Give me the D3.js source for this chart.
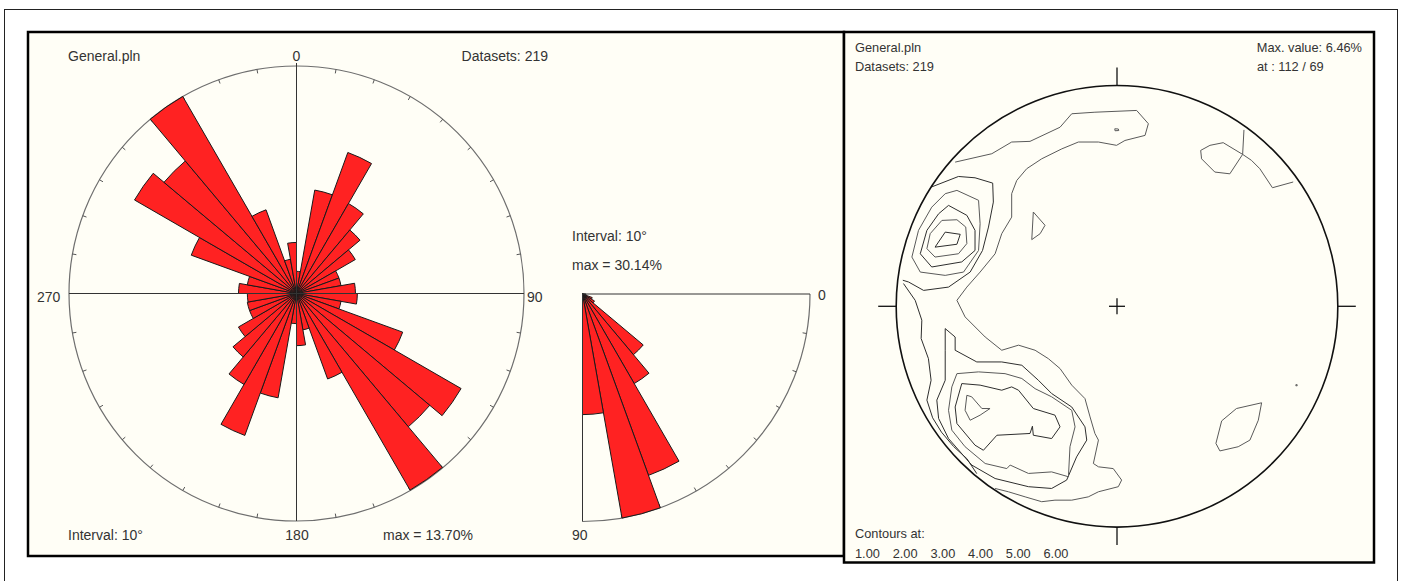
<!DOCTYPE html>
<html>
<head>
<meta charset="utf-8">
<script src="https://cdn.jsdelivr.net/npm/d3@7/dist/d3.min.js"></script>
<style>
  html, body { margin: 0; padding: 0; background: #ffffff; }
  svg { display: block; }
  text { font-family: "Liberation Sans", Arial, Helvetica, sans-serif; fill: #333333; }
</style>
</head>
<body>
<svg id="chart" width="1402" height="581"></svg>
<script>
// ---- data -------------------------------------------------------------
const fileName = "General.pln";
const datasetCount = 219;

// rose of dip directions, 10° classes starting at 0°
const dirClassStart = d3.range(0, 360, 10);
const dirPercent = [
  0.13, 2.92, 5.96, 2.86, 1.82, 1.22, 0.54, 0.54, 0.92,
  0.98, 0.54, 3.38, 9.56, 8.01, 13.64, 2.19, 0.36, 0.72,
  0.24, 2.97, 6.04, 2.92, 1.82, 1.19, 0.66, 0.66, 0.64,
  0.89, 0.66, 3.32, 9.26, 7.92, 13.70, 2.10, 0.32, 0.69
];
const dirMax = 13.70;

// rose of dip angles, 10° classes from 0° to 90°
const dipClassStart = d3.range(0, 90, 10);
const dipPercent = [0.46, 0.46, 1.37, 1.83, 10.50, 13.70, 25.57, 30.14, 15.98];
const dipMax = 30.14;
const classInterval = 10;

// density contours (percent of primitive radius, x east, y north)
const contourLevels = [1, 2, 3, 4, 5, 6];
const maxValue = "6.46%";
const maxAt = "112 / 69";

const line1West = [[-73.3,65.3],[-56.7,69.1],[-47.7,74.4],[-39.4,74.7],[-25.8,81.1],[-20.5,87.2],[-10.0,87.9],[8.9,88.7],[14.2,82.7],[12.7,77.4],[3.6,75.1],[-0.2,72.9],[-8.4,74.4],[-17.5,74.4],[-25.0,71.3],[-34.1,66.8],[-40.9,62.3],[-45.4,57.0],[-47.7,51.0],[-47.7,40.4],[-52.2,32.9],[-55.2,23.8],[-62.0,15.5],[-68.0,8.7],[-72.5,2.7],[-68.8,-4.8],[-59.7,-13.9],[-52.2,-19.9],[-44.6,-17.6],[-37.1,-19.9],[-31.1,-23.7],[-25.8,-28.2],[-20.5,-35.7],[-14.5,-41.8],[-12.2,-50.1],[-10.0,-57.6],[-8.4,-60.6],[-10.7,-71.2],[-8.4,-72.7],[-1.7,-73.5],[2.1,-78.7],[0.6,-81.7],[-8.4,-84.0],[-13.0,-86.3],[-20.5,-87.8],[-28.1,-87.8],[-34.1,-88.5],[-41.6,-86.3],[-49.2,-84.0],[-55.2,-82.5]];
const line1NorthEast = [[57.5,79.9],[56.9,68.8],[60.9,66.1],[64.7,62.3],[70.4,53.7],[79.8,56.3]];
const loop1NorthEast = [[56.9,68.8],[48.1,74.1],[42.1,72.9],[37.9,70.6],[38.3,66.8],[44.3,60.8],[51.1,60.0]];
const loop1SouthEast = [[65.5,-43.7],[54.1,-46.3],[47.4,-51.9],[44.8,-62.1],[46.6,-65.5],[54.9,-63.6],[60.2,-60.6],[64.0,-51.6]];
const loop1Centre = [[-37.9,42.7],[-32.6,36.7],[-34.8,32.9],[-38.6,30.2]];
const loop1North = [[-1.0,80.4],[0.6,80.3],[0.8,79.6],[-0.9,79.5]];
const loop1East = [[81.0,-35.5],[81.6,-35.5],[81.6,-36.0],[81.0,-36.0]];

const line2West = [[-96.7,10.3],[-91.4,2.7],[-88.4,-6.3],[-88.7,-14.6],[-85.4,-23.7],[-84.2,-33.5],[-86.1,-42.5],[-83.5,-50.5],[-79.5,-57.0],[-74.0,-63.5],[-68.0,-69.0],[-63.5,-75.8]];
const line2NorthWest = [[-84.1,54.0],[-71.8,58.8],[-64.3,58.2],[-56.3,55.8],[-56.0,47.2],[-58.2,35.9],[-60.9,25.3],[-66.5,15.5],[-76.3,8.7],[-87.6,7.2],[-94.4,11.0],[-97.0,11.8]];

const loop3NorthWest = [[-72.5,52.5],[-62.7,48.0],[-62.0,37.4],[-62.7,25.3],[-69.5,15.5],[-77.8,14.0],[-89.1,15.5],[-92.9,22.3],[-89.9,34.4],[-83.9,44.9],[-77.8,51.0]];
const loop2SouthWest = [[-77.8,-10.1],[-73.3,-13.9],[-73.3,-19.9],[-63.5,-25.2],[-52.2,-25.2],[-43.1,-26.7],[-35.6,-33.5],[-29.6,-39.5],[-20.5,-45.6],[-14.5,-54.6],[-13.7,-60.6],[-18.3,-68.2],[-22.8,-78.7],[-29.6,-82.5],[-40.1,-81.7],[-55.2,-78.0],[-65.8,-71.9],[-76.3,-59.9],[-80.8,-50.8],[-81.6,-42.5],[-77.8,-33.5],[-77.8,-19.9]];

const loop4NorthWest = [[-76.3,45.7],[-68.0,41.2],[-64.3,34.4],[-64.3,25.3],[-70.3,20.1],[-83.9,17.8],[-89.1,23.8],[-86.1,34.4],[-80.8,41.9]];
const loop3SouthWest = [[-72.5,-30.5],[-62.7,-29.7],[-50.7,-30.5],[-43.1,-32.7],[-37.1,-37.3],[-29.6,-41.0],[-20.5,-47.1],[-19.0,-54.6],[-21.3,-63.6],[-22.0,-77.2],[-29.6,-75.0],[-40.1,-75.7],[-48.4,-71.9],[-49.9,-73.5],[-59.7,-71.2],[-68.8,-63.6],[-74.8,-56.1],[-76.3,-47.1],[-74.8,-36.5]];

const loop5NorthWest = [[-79.3,38.9],[-72.5,39.2],[-68.5,35.9],[-68.0,28.4],[-71.8,23.8],[-82.4,22.3],[-86.1,26.1],[-84.6,32.9]];
const loop4SouthWest = [[-70.3,-35.0],[-62.0,-35.7],[-52.2,-38.0],[-47.7,-36.5],[-44.6,-38.0],[-37.9,-46.3],[-28.1,-49.3],[-25.8,-54.6],[-29.6,-59.9],[-37.9,-58.4],[-38.3,-54.3],[-39.4,-57.6],[-54.4,-58.4],[-60.5,-65.2],[-64.3,-62.9],[-72.5,-53.1],[-73.3,-45.6]];

const loop6NorthWest = [[-77.8,33.6],[-71.0,32.6],[-72.5,28.1],[-82.4,26.8]];
const loop5SouthWest = [[-68.0,-40.3],[-65.8,-41.0],[-61.2,-46.3],[-57.5,-46.3],[-62.0,-49.3],[-66.5,-51.6],[-68.8,-47.1]];

const contourLines = [
  { level: 1, closed: false, pts: line1West },
  { level: 1, closed: false, pts: line1NorthEast },
  { level: 1, closed: true,  pts: loop1NorthEast },
  { level: 1, closed: true,  pts: loop1SouthEast },
  { level: 1, closed: true,  pts: loop1Centre },
  { level: 1, closed: true,  pts: loop1North },
  { level: 1, closed: true,  pts: loop1East },
  { level: 2, closed: false, pts: line2West },
  { level: 2, closed: false, pts: line2NorthWest },
  { level: 2, closed: true,  pts: loop2SouthWest },
  { level: 3, closed: true,  pts: loop3NorthWest },
  { level: 3, closed: true,  pts: loop3SouthWest },
  { level: 4, closed: true,  pts: loop4NorthWest },
  { level: 4, closed: true,  pts: loop4SouthWest },
  { level: 5, closed: true,  pts: loop5NorthWest },
  { level: 5, closed: true,  pts: loop5SouthWest },
  { level: 6, closed: true,  pts: loop6NorthWest }
];

// ---- drawing ----------------------------------------------------------
const svg = d3.select("#chart");
const panelFill = "#fffef6";
const petalFill = "#ff2222";

// outer frame and the two panels
svg.append("rect").attr("x", 4.5).attr("y", 9.5).attr("width", 1393).attr("height", 600)
  .attr("fill", "#ffffff").attr("stroke", "#222").attr("stroke-width", 1);
svg.append("rect").attr("x", 28).attr("y", 32).attr("width", 816).attr("height", 524)
  .attr("fill", panelFill).attr("stroke", "#000").attr("stroke-width", 2.5);
svg.append("rect").attr("x", 844).attr("y", 32).attr("width", 530).attr("height", 530.5)
  .attr("fill", panelFill).attr("stroke", "#000").attr("stroke-width", 2.5);

// ---- rose of dip directions
const rose = { cx: 296.5, cy: 293.5, R: 227.5 };
const angle = d3.scaleLinear().domain([0, 360]).range([0, 2 * Math.PI]);
const dirRadius = d3.scaleSqrt().domain([0, dirMax]).range([0, rose.R]);
const gRose = svg.append("g").attr("transform", `translate(${rose.cx},${rose.cy})`);

gRose.append("circle").attr("r", rose.R).attr("fill", "none").attr("stroke", "#6e6e6e").attr("stroke-width", 1.2);
gRose.selectAll("line.tick").data(d3.range(0, 360, 10)).join("line").attr("class", "tick")
  .attr("x1", d => Math.sin(angle(d)) * rose.R).attr("y1", d => -Math.cos(angle(d)) * rose.R)
  .attr("x2", d => Math.sin(angle(d)) * (rose.R - 4)).attr("y2", d => -Math.cos(angle(d)) * (rose.R - 4))
  .attr("stroke", "#555").attr("stroke-width", 1);

const petalArc = d3.arc().innerRadius(0);
gRose.selectAll("path.petal").data(dirClassStart.map((s, i) => ({ s, v: dirPercent[i] }))).join("path")
  .attr("class", "petal")
  .attr("d", d => petalArc({ outerRadius: dirRadius(d.v), startAngle: angle(d.s), endAngle: angle(d.s + classInterval) }))
  .attr("fill", petalFill).attr("stroke", "#1a1a1a").attr("stroke-width", 1).attr("stroke-linejoin", "round");

gRose.append("line").attr("x1", -rose.R).attr("x2", rose.R).attr("y1", 0).attr("y2", 0).attr("stroke", "#333").attr("stroke-width", 1);
gRose.append("line").attr("y1", -rose.R - 3).attr("y2", rose.R).attr("x1", 0).attr("x2", 0).attr("stroke", "#333").attr("stroke-width", 1);

const leftFont = 14;
function label(g, x, y, str, size, anchor) {
  return g.append("text").attr("x", x).attr("y", y).attr("font-size", size).attr("text-anchor", anchor || "start").text(str);
}
label(svg, 68, 61, fileName, leftFont);
label(svg, 548, 61, `Datasets: ${datasetCount}`, leftFont, "end");
label(svg, 296.5, 61, "0", leftFont, "middle");
label(svg, 37, 302, "270", leftFont);
label(svg, 527, 302, "90", leftFont);
label(svg, 297, 540, "180", leftFont, "middle");
label(svg, 68, 540, `Interval: ${classInterval}°`, leftFont);
label(svg, 383, 540, `max = ${dirMax.toFixed(2)}%`, leftFont);

// ---- rose of dip angles (quarter circle)
const quad = { ox: 582.5, oy: 294, R: 227.5 };
const dipAngle = d3.scaleLinear().domain([0, 90]).range([Math.PI / 2, Math.PI]);
const dipRadius = d3.scaleLinear().domain([0, dipMax]).range([0, quad.R]);
const gQuad = svg.append("g").attr("transform", `translate(${quad.ox},${quad.oy})`);

gQuad.append("path").attr("d", d3.arc()({ innerRadius: quad.R, outerRadius: quad.R, startAngle: Math.PI / 2, endAngle: Math.PI }))
  .attr("fill", "none").attr("stroke", "#6e6e6e").attr("stroke-width", 1.2);
gQuad.selectAll("line.tick").data(d3.range(10, 90, 10)).join("line").attr("class", "tick")
  .attr("x1", d => Math.sin(dipAngle(d)) * quad.R).attr("y1", d => -Math.cos(dipAngle(d)) * quad.R)
  .attr("x2", d => Math.sin(dipAngle(d)) * (quad.R - 4)).attr("y2", d => -Math.cos(dipAngle(d)) * (quad.R - 4))
  .attr("stroke", "#555").attr("stroke-width", 1);
gQuad.selectAll("path.petal").data(dipClassStart.map((s, i) => ({ s, v: dipPercent[i] }))).join("path")
  .attr("class", "petal")
  .attr("d", d => petalArc({ outerRadius: dipRadius(d.v), startAngle: dipAngle(d.s), endAngle: dipAngle(d.s + classInterval) }))
  .attr("fill", petalFill).attr("stroke", "#1a1a1a").attr("stroke-width", 1).attr("stroke-linejoin", "round");
gQuad.append("line").attr("x1", 0).attr("x2", quad.R).attr("y1", 0).attr("y2", 0).attr("stroke", "#333").attr("stroke-width", 1);
gQuad.append("line").attr("x1", 0).attr("x2", 0).attr("y1", 0).attr("y2", quad.R).attr("stroke", "#333").attr("stroke-width", 1);

label(svg, 572, 241, `Interval: ${classInterval}°`, leftFont);
label(svg, 572, 270, `max = ${dipMax.toFixed(2)}%`, leftFont);
label(svg, 818, 300, "0", leftFont);
label(svg, 572, 540, "90", leftFont);

// ---- contoured stereonet
const net = { cx: 1117, cy: 306.3, R: 220.8 };
const nx = d3.scaleLinear().domain([-100, 100]).range([net.cx - net.R, net.cx + net.R]);
const ny = d3.scaleLinear().domain([-100, 100]).range([net.cy + net.R, net.cy - net.R]);
const gNet = svg.append("g");

const contourPath = d3.line().x(d => nx(d[0])).y(d => ny(d[1]));
gNet.selectAll("path.contour").data(contourLines).join("path").attr("class", "contour")
  .attr("d", d => contourPath.curve(d.closed ? d3.curveLinearClosed : d3.curveLinear)(d.pts))
  .attr("fill", "none")
  .attr("stroke", d => d.level % 2 === 0 ? "#2e2e2e" : "#5a5a5a")
  .attr("stroke-width", 1);

gNet.append("circle").attr("cx", net.cx).attr("cy", net.cy).attr("r", net.R)
  .attr("fill", "none").attr("stroke", "#111").attr("stroke-width", 1.6);
const tickLen = 18;
[[0, -1], [0, 1], [-1, 0], [1, 0]].forEach(([dx, dy]) => {
  gNet.append("line")
    .attr("x1", net.cx + dx * net.R).attr("y1", net.cy + dy * net.R)
    .attr("x2", net.cx + dx * (net.R + tickLen)).attr("y2", net.cy + dy * (net.R + tickLen))
    .attr("stroke", "#111").attr("stroke-width", 1.3);
});
gNet.append("line").attr("x1", net.cx - 8).attr("x2", net.cx + 8).attr("y1", net.cy).attr("y2", net.cy).attr("stroke", "#111").attr("stroke-width", 1.3);
gNet.append("line").attr("y1", net.cy - 8).attr("y2", net.cy + 8).attr("x1", net.cx).attr("x2", net.cx).attr("stroke", "#111").attr("stroke-width", 1.3);

const rightFont = 12.8;
label(svg, 855, 51.5, fileName, rightFont);
label(svg, 855, 70.5, `Datasets: ${datasetCount}`, rightFont);
label(svg, 1362, 51.5, `Max. value: ${maxValue}`, rightFont, "end");
label(svg, 1257, 70.5, `at : ${maxAt}`, rightFont);
label(svg, 855, 538, "Contours at:", rightFont);
const levelX = d3.scalePoint().domain(contourLevels).range([855, 1043.5]);
svg.selectAll("text.level").data(contourLevels).join("text").attr("class", "level")
  .attr("x", d => levelX(d)).attr("y", 558).attr("font-size", rightFont)
  .text(d => d.toFixed(2));
</script>
</body>
</html>
